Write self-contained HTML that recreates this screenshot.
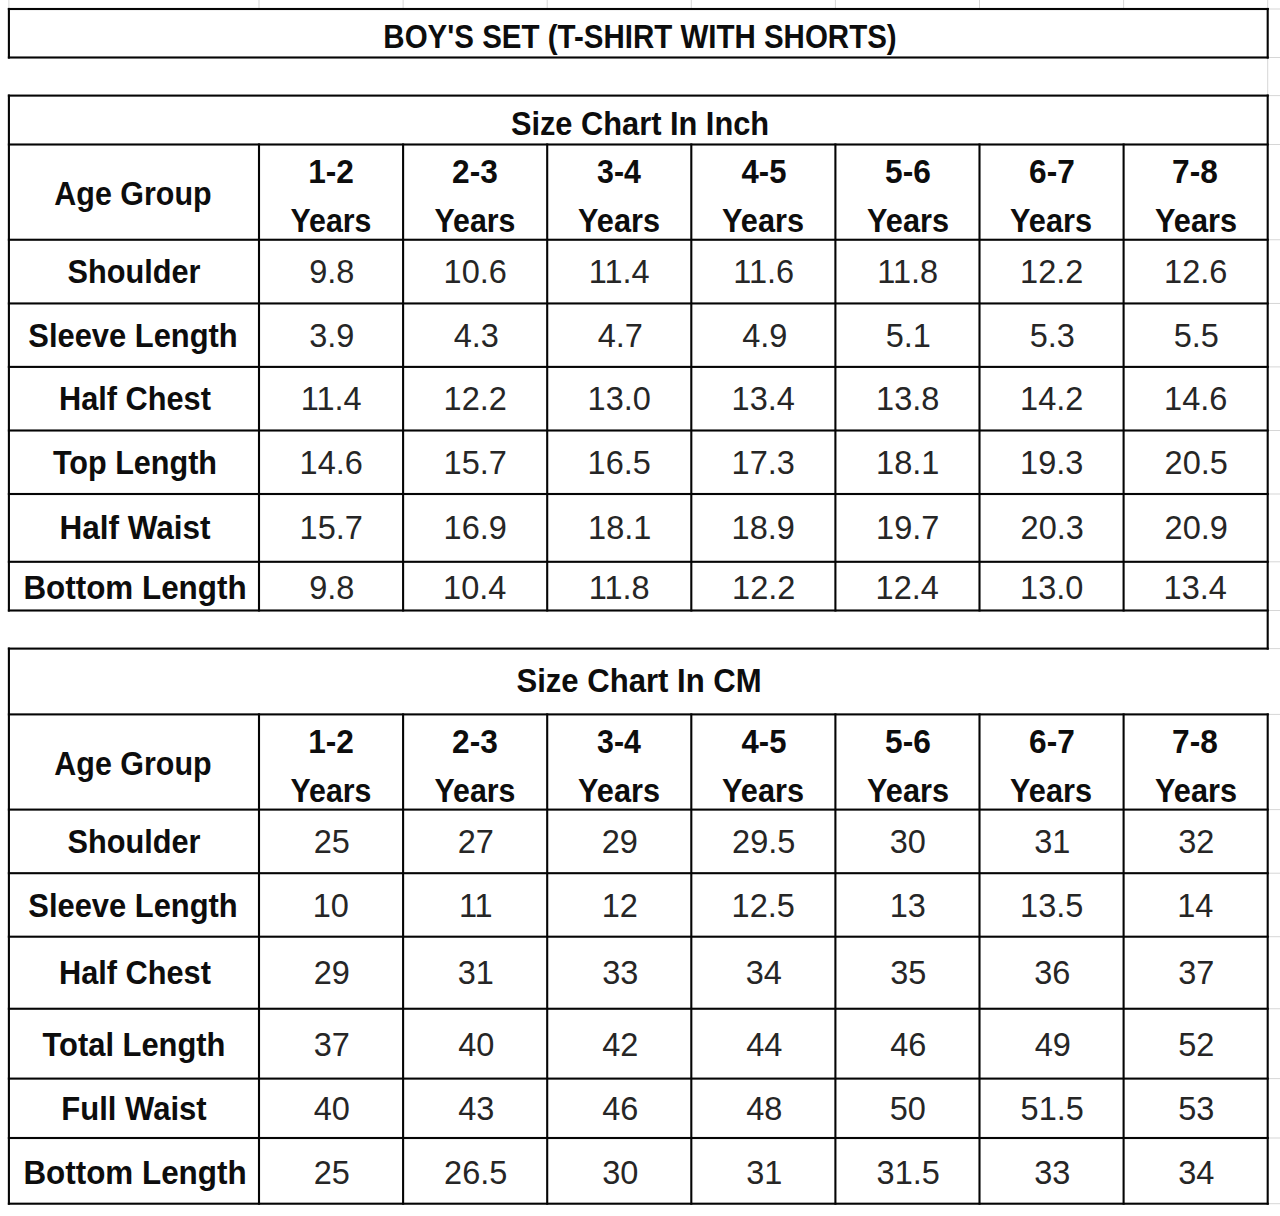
<!DOCTYPE html>
<html><head><meta charset="utf-8"><style>
html,body{margin:0;padding:0;background:#fff;}
body{width:1280px;height:1216px;position:relative;overflow:hidden;font-family:"Liberation Sans",sans-serif;}
.t{position:absolute;width:0;height:0;}
.t span{position:absolute;left:0;top:0;white-space:nowrap;line-height:1;font-size:32.5px;color:#262626;transform-origin:50% 50%;}
.b span{font-weight:bold;color:#0d0d0d;}
svg{position:absolute;left:0;top:0;}
</style></head><body>

<svg width="1280" height="1216" shape-rendering="geometricPrecision"><rect x="8.40" y="0" width="1" height="8" fill="#d6d6d6"/><rect x="258.50" y="0" width="1" height="8" fill="#d6d6d6"/><rect x="402.60" y="0" width="1" height="8" fill="#d6d6d6"/><rect x="546.70" y="0" width="1" height="8" fill="#d6d6d6"/><rect x="690.80" y="0" width="1" height="8" fill="#d6d6d6"/><rect x="834.90" y="0" width="1" height="8" fill="#d6d6d6"/><rect x="979.00" y="0" width="1" height="8" fill="#d6d6d6"/><rect x="1123.10" y="0" width="1" height="8" fill="#d6d6d6"/><rect x="1267.20" y="0" width="1" height="8" fill="#d6d6d6"/><rect x="1268.70" y="8.50" width="11.30" height="1" fill="#d6d6d6"/><rect x="1268.70" y="57.00" width="11.30" height="1" fill="#d6d6d6"/><rect x="1268.70" y="95.10" width="11.30" height="1" fill="#d6d6d6"/><rect x="1268.70" y="144.00" width="11.30" height="1" fill="#d6d6d6"/><rect x="1268.70" y="239.25" width="11.30" height="1" fill="#d6d6d6"/><rect x="1268.70" y="302.95" width="11.30" height="1" fill="#d6d6d6"/><rect x="1268.70" y="366.40" width="11.30" height="1" fill="#d6d6d6"/><rect x="1268.70" y="430.00" width="11.30" height="1" fill="#d6d6d6"/><rect x="1268.70" y="493.50" width="11.30" height="1" fill="#d6d6d6"/><rect x="1268.70" y="561.30" width="11.30" height="1" fill="#d6d6d6"/><rect x="1268.70" y="610.00" width="11.30" height="1" fill="#d6d6d6"/><rect x="1268.70" y="648.10" width="11.30" height="1" fill="#d6d6d6"/><rect x="1268.70" y="713.90" width="11.30" height="1" fill="#d6d6d6"/><rect x="1268.70" y="809.10" width="11.30" height="1" fill="#d6d6d6"/><rect x="1268.70" y="872.70" width="11.30" height="1" fill="#d6d6d6"/><rect x="1268.70" y="936.20" width="11.30" height="1" fill="#d6d6d6"/><rect x="1268.70" y="1008.25" width="11.30" height="1" fill="#d6d6d6"/><rect x="1268.70" y="1078.10" width="11.30" height="1" fill="#d6d6d6"/><rect x="1268.70" y="1137.50" width="11.30" height="1" fill="#d6d6d6"/><rect x="1268.70" y="1203.20" width="11.30" height="1" fill="#d6d6d6"/><rect x="1267.20" y="57" width="1" height="38" fill="#d6d6d6"/><rect x="7.85" y="7.95" width="1260.90" height="2.1" fill="#050505"/><rect x="7.85" y="56.45" width="1260.90" height="2.1" fill="#050505"/><rect x="7.85" y="7.95" width="2.1" height="50.60" fill="#050505"/><rect x="1266.65" y="7.95" width="2.1" height="50.60" fill="#050505"/><rect x="7.85" y="94.55" width="1260.90" height="2.1" fill="#050505"/><rect x="7.85" y="143.45" width="1260.90" height="2.1" fill="#050505"/><rect x="7.85" y="238.70" width="1260.90" height="2.1" fill="#050505"/><rect x="7.85" y="302.40" width="1260.90" height="2.1" fill="#050505"/><rect x="7.85" y="365.85" width="1260.90" height="2.1" fill="#050505"/><rect x="7.85" y="429.45" width="1260.90" height="2.1" fill="#050505"/><rect x="7.85" y="492.95" width="1260.90" height="2.1" fill="#050505"/><rect x="7.85" y="560.75" width="1260.90" height="2.1" fill="#050505"/><rect x="7.85" y="609.45" width="1260.90" height="2.1" fill="#050505"/><rect x="7.85" y="94.55" width="2.1" height="517.00" fill="#050505"/><rect x="1266.65" y="94.55" width="2.1" height="555.10" fill="#050505"/><rect x="257.95" y="143.45" width="2.1" height="468.10" fill="#050505"/><rect x="402.05" y="143.45" width="2.1" height="468.10" fill="#050505"/><rect x="546.15" y="143.45" width="2.1" height="468.10" fill="#050505"/><rect x="690.25" y="143.45" width="2.1" height="468.10" fill="#050505"/><rect x="834.35" y="143.45" width="2.1" height="468.10" fill="#050505"/><rect x="978.45" y="143.45" width="2.1" height="468.10" fill="#050505"/><rect x="1122.55" y="143.45" width="2.1" height="468.10" fill="#050505"/><rect x="7.85" y="647.55" width="1260.90" height="2.1" fill="#050505"/><rect x="7.85" y="713.35" width="1260.90" height="2.1" fill="#050505"/><rect x="7.85" y="808.55" width="1260.90" height="2.1" fill="#050505"/><rect x="7.85" y="872.15" width="1260.90" height="2.1" fill="#050505"/><rect x="7.85" y="935.65" width="1260.90" height="2.1" fill="#050505"/><rect x="7.85" y="1007.70" width="1260.90" height="2.1" fill="#050505"/><rect x="7.85" y="1077.55" width="1260.90" height="2.1" fill="#050505"/><rect x="7.85" y="1136.95" width="1260.90" height="2.1" fill="#050505"/><rect x="7.85" y="1202.65" width="1260.90" height="2.1" fill="#050505"/><rect x="7.85" y="647.55" width="2.1" height="557.20" fill="#050505"/><rect x="1266.65" y="713.35" width="2.1" height="491.40" fill="#050505"/><rect x="257.95" y="713.35" width="2.1" height="491.40" fill="#050505"/><rect x="402.05" y="713.35" width="2.1" height="491.40" fill="#050505"/><rect x="546.15" y="713.35" width="2.1" height="491.40" fill="#050505"/><rect x="690.25" y="713.35" width="2.1" height="491.40" fill="#050505"/><rect x="834.35" y="713.35" width="2.1" height="491.40" fill="#050505"/><rect x="978.45" y="713.35" width="2.1" height="491.40" fill="#050505"/><rect x="1122.55" y="713.35" width="2.1" height="491.40" fill="#050505"/></svg>
<div class="t b" style="left:640.00px;top:20.99px"><span style="transform:translateX(-50%) scaleX(0.9075)">BOY'S SET (T-SHIRT WITH SHORTS)</span></div>
<div class="t b" style="left:639.75px;top:107.99px"><span style="transform:translateX(-50%) scaleX(0.9469)">Size Chart In Inch</span></div>
<div class="t b" style="left:133.25px;top:177.59px"><span style="transform:translateX(-50%) scaleX(0.9366)">Age Group</span></div>
<div class="t b" style="left:330.75px;top:156.49px"><span style="transform:translateX(-50%) scaleX(0.9736)">1-2</span></div>
<div class="t b" style="left:331.00px;top:204.99px"><span style="transform:translateX(-50%) scaleX(0.9322)">Years</span></div>
<div class="t b" style="left:475.25px;top:156.49px"><span style="transform:translateX(-50%) scaleX(0.9746)">2-3</span></div>
<div class="t b" style="left:474.50px;top:204.99px"><span style="transform:translateX(-50%) scaleX(0.9322)">Years</span></div>
<div class="t b" style="left:618.75px;top:156.49px"><span style="transform:translateX(-50%) scaleX(0.9322)">3-4</span></div>
<div class="t b" style="left:618.50px;top:204.99px"><span style="transform:translateX(-50%) scaleX(0.9444)">Years</span></div>
<div class="t b" style="left:763.75px;top:156.49px"><span style="transform:translateX(-50%) scaleX(0.9538)">4-5</span></div>
<div class="t b" style="left:763.00px;top:204.99px"><span style="transform:translateX(-50%) scaleX(0.9444)">Years</span></div>
<div class="t b" style="left:907.75px;top:156.49px"><span style="transform:translateX(-50%) scaleX(0.9746)">5-6</span></div>
<div class="t b" style="left:907.50px;top:204.99px"><span style="transform:translateX(-50%) scaleX(0.9444)">Years</span></div>
<div class="t b" style="left:1052.25px;top:156.49px"><span style="transform:translateX(-50%) scaleX(0.9741)">6-7</span></div>
<div class="t b" style="left:1051.00px;top:204.99px"><span style="transform:translateX(-50%) scaleX(0.9444)">Years</span></div>
<div class="t b" style="left:1194.75px;top:156.49px"><span style="transform:translateX(-50%) scaleX(0.9741)">7-8</span></div>
<div class="t b" style="left:1195.50px;top:204.99px"><span style="transform:translateX(-50%) scaleX(0.9444)">Years</span></div>
<div class="t b" style="left:133.50px;top:256.19px"><span style="transform:translateX(-50%) scaleX(0.9447)">Shoulder</span></div>
<div class="t" style="left:331.75px;top:256.19px"><span style="transform:translateX(-50%) scaleX(1.0000)">9.8</span></div>
<div class="t" style="left:475.25px;top:256.19px"><span style="transform:translateX(-50%) scaleX(1.0000)">10.6</span></div>
<div class="t" style="left:619.25px;top:256.19px"><span style="transform:translateX(-50%) scaleX(1.0000)">11.4</span></div>
<div class="t" style="left:763.75px;top:256.19px"><span style="transform:translateX(-50%) scaleX(1.0000)">11.6</span></div>
<div class="t" style="left:907.75px;top:256.19px"><span style="transform:translateX(-50%) scaleX(1.0000)">11.8</span></div>
<div class="t" style="left:1051.75px;top:256.19px"><span style="transform:translateX(-50%) scaleX(1.0000)">12.2</span></div>
<div class="t" style="left:1195.75px;top:256.19px"><span style="transform:translateX(-50%) scaleX(1.0000)">12.6</span></div>
<div class="t b" style="left:133.00px;top:319.89px"><span style="transform:translateX(-50%) scaleX(0.9498)">Sleeve Length</span></div>
<div class="t" style="left:331.75px;top:319.89px"><span style="transform:translateX(-50%) scaleX(1.0000)">3.9</span></div>
<div class="t" style="left:476.25px;top:319.89px"><span style="transform:translateX(-50%) scaleX(1.0000)">4.3</span></div>
<div class="t" style="left:620.25px;top:319.89px"><span style="transform:translateX(-50%) scaleX(1.0000)">4.7</span></div>
<div class="t" style="left:764.75px;top:319.89px"><span style="transform:translateX(-50%) scaleX(1.0000)">4.9</span></div>
<div class="t" style="left:908.25px;top:319.89px"><span style="transform:translateX(-50%) scaleX(1.0000)">5.1</span></div>
<div class="t" style="left:1052.25px;top:319.89px"><span style="transform:translateX(-50%) scaleX(1.0000)">5.3</span></div>
<div class="t" style="left:1196.25px;top:319.89px"><span style="transform:translateX(-50%) scaleX(1.0000)">5.5</span></div>
<div class="t b" style="left:135.00px;top:383.29px"><span style="transform:translateX(-50%) scaleX(0.9447)">Half Chest</span></div>
<div class="t" style="left:331.25px;top:383.29px"><span style="transform:translateX(-50%) scaleX(1.0000)">11.4</span></div>
<div class="t" style="left:475.25px;top:383.29px"><span style="transform:translateX(-50%) scaleX(1.0000)">12.2</span></div>
<div class="t" style="left:619.25px;top:383.29px"><span style="transform:translateX(-50%) scaleX(1.0000)">13.0</span></div>
<div class="t" style="left:763.25px;top:383.29px"><span style="transform:translateX(-50%) scaleX(1.0000)">13.4</span></div>
<div class="t" style="left:907.75px;top:383.29px"><span style="transform:translateX(-50%) scaleX(1.0000)">13.8</span></div>
<div class="t" style="left:1051.75px;top:383.29px"><span style="transform:translateX(-50%) scaleX(1.0000)">14.2</span></div>
<div class="t" style="left:1195.75px;top:383.29px"><span style="transform:translateX(-50%) scaleX(1.0000)">14.6</span></div>
<div class="t b" style="left:134.50px;top:446.89px"><span style="transform:translateX(-50%) scaleX(0.9402)">Top Length</span></div>
<div class="t" style="left:331.25px;top:446.89px"><span style="transform:translateX(-50%) scaleX(1.0000)">14.6</span></div>
<div class="t" style="left:475.25px;top:446.89px"><span style="transform:translateX(-50%) scaleX(1.0000)">15.7</span></div>
<div class="t" style="left:619.25px;top:446.89px"><span style="transform:translateX(-50%) scaleX(1.0000)">16.5</span></div>
<div class="t" style="left:763.25px;top:446.89px"><span style="transform:translateX(-50%) scaleX(1.0000)">17.3</span></div>
<div class="t" style="left:907.75px;top:446.89px"><span style="transform:translateX(-50%) scaleX(1.0000)">18.1</span></div>
<div class="t" style="left:1051.75px;top:446.89px"><span style="transform:translateX(-50%) scaleX(1.0000)">19.3</span></div>
<div class="t" style="left:1196.25px;top:446.89px"><span style="transform:translateX(-50%) scaleX(1.0000)">20.5</span></div>
<div class="t b" style="left:135.00px;top:512.49px"><span style="transform:translateX(-50%) scaleX(0.9690)">Half Waist</span></div>
<div class="t" style="left:331.25px;top:512.49px"><span style="transform:translateX(-50%) scaleX(1.0000)">15.7</span></div>
<div class="t" style="left:475.25px;top:512.49px"><span style="transform:translateX(-50%) scaleX(1.0000)">16.9</span></div>
<div class="t" style="left:619.75px;top:512.49px"><span style="transform:translateX(-50%) scaleX(1.0000)">18.1</span></div>
<div class="t" style="left:763.25px;top:512.49px"><span style="transform:translateX(-50%) scaleX(1.0000)">18.9</span></div>
<div class="t" style="left:907.75px;top:512.49px"><span style="transform:translateX(-50%) scaleX(1.0000)">19.7</span></div>
<div class="t" style="left:1052.25px;top:512.49px"><span style="transform:translateX(-50%) scaleX(1.0000)">20.3</span></div>
<div class="t" style="left:1196.25px;top:512.49px"><span style="transform:translateX(-50%) scaleX(1.0000)">20.9</span></div>
<div class="t b" style="left:134.50px;top:571.79px"><span style="transform:translateX(-50%) scaleX(0.9660)">Bottom Length</span></div>
<div class="t" style="left:331.75px;top:571.79px"><span style="transform:translateX(-50%) scaleX(1.0000)">9.8</span></div>
<div class="t" style="left:474.75px;top:571.79px"><span style="transform:translateX(-50%) scaleX(1.0000)">10.4</span></div>
<div class="t" style="left:619.25px;top:571.79px"><span style="transform:translateX(-50%) scaleX(1.0000)">11.8</span></div>
<div class="t" style="left:763.75px;top:571.79px"><span style="transform:translateX(-50%) scaleX(1.0000)">12.2</span></div>
<div class="t" style="left:907.25px;top:571.79px"><span style="transform:translateX(-50%) scaleX(1.0000)">12.4</span></div>
<div class="t" style="left:1051.75px;top:571.79px"><span style="transform:translateX(-50%) scaleX(1.0000)">13.0</span></div>
<div class="t" style="left:1195.25px;top:571.79px"><span style="transform:translateX(-50%) scaleX(1.0000)">13.4</span></div>
<div class="t b" style="left:638.75px;top:665.19px"><span style="transform:translateX(-50%) scaleX(0.9561)">Size Chart In CM</span></div>
<div class="t b" style="left:133.25px;top:747.59px"><span style="transform:translateX(-50%) scaleX(0.9366)">Age Group</span></div>
<div class="t b" style="left:330.75px;top:726.49px"><span style="transform:translateX(-50%) scaleX(0.9736)">1-2</span></div>
<div class="t b" style="left:331.00px;top:774.99px"><span style="transform:translateX(-50%) scaleX(0.9322)">Years</span></div>
<div class="t b" style="left:475.25px;top:726.49px"><span style="transform:translateX(-50%) scaleX(0.9746)">2-3</span></div>
<div class="t b" style="left:474.50px;top:774.99px"><span style="transform:translateX(-50%) scaleX(0.9322)">Years</span></div>
<div class="t b" style="left:618.75px;top:726.49px"><span style="transform:translateX(-50%) scaleX(0.9322)">3-4</span></div>
<div class="t b" style="left:618.50px;top:774.99px"><span style="transform:translateX(-50%) scaleX(0.9444)">Years</span></div>
<div class="t b" style="left:763.75px;top:726.49px"><span style="transform:translateX(-50%) scaleX(0.9538)">4-5</span></div>
<div class="t b" style="left:763.00px;top:774.99px"><span style="transform:translateX(-50%) scaleX(0.9444)">Years</span></div>
<div class="t b" style="left:907.75px;top:726.49px"><span style="transform:translateX(-50%) scaleX(0.9746)">5-6</span></div>
<div class="t b" style="left:907.50px;top:774.99px"><span style="transform:translateX(-50%) scaleX(0.9444)">Years</span></div>
<div class="t b" style="left:1052.25px;top:726.49px"><span style="transform:translateX(-50%) scaleX(0.9741)">6-7</span></div>
<div class="t b" style="left:1051.00px;top:774.99px"><span style="transform:translateX(-50%) scaleX(0.9444)">Years</span></div>
<div class="t b" style="left:1194.75px;top:726.49px"><span style="transform:translateX(-50%) scaleX(0.9741)">7-8</span></div>
<div class="t b" style="left:1195.50px;top:774.99px"><span style="transform:translateX(-50%) scaleX(0.9444)">Years</span></div>
<div class="t b" style="left:133.50px;top:825.99px"><span style="transform:translateX(-50%) scaleX(0.9447)">Shoulder</span></div>
<div class="t" style="left:331.75px;top:825.99px"><span style="transform:translateX(-50%) scaleX(1.0000)">25</span></div>
<div class="t" style="left:475.75px;top:825.99px"><span style="transform:translateX(-50%) scaleX(1.0000)">27</span></div>
<div class="t" style="left:619.75px;top:825.99px"><span style="transform:translateX(-50%) scaleX(1.0000)">29</span></div>
<div class="t" style="left:763.75px;top:825.99px"><span style="transform:translateX(-50%) scaleX(1.0000)">29.5</span></div>
<div class="t" style="left:907.75px;top:825.99px"><span style="transform:translateX(-50%) scaleX(1.0000)">30</span></div>
<div class="t" style="left:1052.25px;top:825.99px"><span style="transform:translateX(-50%) scaleX(1.0000)">31</span></div>
<div class="t" style="left:1196.25px;top:825.99px"><span style="transform:translateX(-50%) scaleX(1.0000)">32</span></div>
<div class="t b" style="left:133.00px;top:889.79px"><span style="transform:translateX(-50%) scaleX(0.9498)">Sleeve Length</span></div>
<div class="t" style="left:330.75px;top:889.79px"><span style="transform:translateX(-50%) scaleX(1.0000)">10</span></div>
<div class="t" style="left:475.75px;top:889.79px"><span style="transform:translateX(-50%) scaleX(1.0000)">11</span></div>
<div class="t" style="left:619.75px;top:889.79px"><span style="transform:translateX(-50%) scaleX(1.0000)">12</span></div>
<div class="t" style="left:763.25px;top:889.79px"><span style="transform:translateX(-50%) scaleX(1.0000)">12.5</span></div>
<div class="t" style="left:907.75px;top:889.79px"><span style="transform:translateX(-50%) scaleX(1.0000)">13</span></div>
<div class="t" style="left:1051.75px;top:889.79px"><span style="transform:translateX(-50%) scaleX(1.0000)">13.5</span></div>
<div class="t" style="left:1195.25px;top:889.79px"><span style="transform:translateX(-50%) scaleX(1.0000)">14</span></div>
<div class="t b" style="left:135.00px;top:957.09px"><span style="transform:translateX(-50%) scaleX(0.9447)">Half Chest</span></div>
<div class="t" style="left:331.75px;top:957.09px"><span style="transform:translateX(-50%) scaleX(1.0000)">29</span></div>
<div class="t" style="left:475.75px;top:957.09px"><span style="transform:translateX(-50%) scaleX(1.0000)">31</span></div>
<div class="t" style="left:620.25px;top:957.09px"><span style="transform:translateX(-50%) scaleX(1.0000)">33</span></div>
<div class="t" style="left:763.75px;top:957.09px"><span style="transform:translateX(-50%) scaleX(1.0000)">34</span></div>
<div class="t" style="left:908.25px;top:957.09px"><span style="transform:translateX(-50%) scaleX(1.0000)">35</span></div>
<div class="t" style="left:1052.25px;top:957.09px"><span style="transform:translateX(-50%) scaleX(1.0000)">36</span></div>
<div class="t" style="left:1196.25px;top:957.09px"><span style="transform:translateX(-50%) scaleX(1.0000)">37</span></div>
<div class="t b" style="left:133.50px;top:1029.29px"><span style="transform:translateX(-50%) scaleX(0.9500)">Total Length</span></div>
<div class="t" style="left:331.75px;top:1029.29px"><span style="transform:translateX(-50%) scaleX(1.0000)">37</span></div>
<div class="t" style="left:476.25px;top:1029.29px"><span style="transform:translateX(-50%) scaleX(1.0000)">40</span></div>
<div class="t" style="left:620.25px;top:1029.29px"><span style="transform:translateX(-50%) scaleX(1.0000)">42</span></div>
<div class="t" style="left:764.25px;top:1029.29px"><span style="transform:translateX(-50%) scaleX(1.0000)">44</span></div>
<div class="t" style="left:908.25px;top:1029.29px"><span style="transform:translateX(-50%) scaleX(1.0000)">46</span></div>
<div class="t" style="left:1052.75px;top:1029.29px"><span style="transform:translateX(-50%) scaleX(1.0000)">49</span></div>
<div class="t" style="left:1196.25px;top:1029.29px"><span style="transform:translateX(-50%) scaleX(1.0000)">52</span></div>
<div class="t b" style="left:134.00px;top:1093.29px"><span style="transform:translateX(-50%) scaleX(0.9540)">Full Waist</span></div>
<div class="t" style="left:331.75px;top:1093.29px"><span style="transform:translateX(-50%) scaleX(1.0000)">40</span></div>
<div class="t" style="left:476.25px;top:1093.29px"><span style="transform:translateX(-50%) scaleX(1.0000)">43</span></div>
<div class="t" style="left:620.25px;top:1093.29px"><span style="transform:translateX(-50%) scaleX(1.0000)">46</span></div>
<div class="t" style="left:764.25px;top:1093.29px"><span style="transform:translateX(-50%) scaleX(1.0000)">48</span></div>
<div class="t" style="left:907.75px;top:1093.29px"><span style="transform:translateX(-50%) scaleX(1.0000)">50</span></div>
<div class="t" style="left:1052.25px;top:1093.29px"><span style="transform:translateX(-50%) scaleX(1.0000)">51.5</span></div>
<div class="t" style="left:1196.25px;top:1093.29px"><span style="transform:translateX(-50%) scaleX(1.0000)">53</span></div>
<div class="t b" style="left:134.50px;top:1156.59px"><span style="transform:translateX(-50%) scaleX(0.9660)">Bottom Length</span></div>
<div class="t" style="left:331.75px;top:1156.59px"><span style="transform:translateX(-50%) scaleX(1.0000)">25</span></div>
<div class="t" style="left:475.75px;top:1156.59px"><span style="transform:translateX(-50%) scaleX(1.0000)">26.5</span></div>
<div class="t" style="left:620.25px;top:1156.59px"><span style="transform:translateX(-50%) scaleX(1.0000)">30</span></div>
<div class="t" style="left:764.25px;top:1156.59px"><span style="transform:translateX(-50%) scaleX(1.0000)">31</span></div>
<div class="t" style="left:908.25px;top:1156.59px"><span style="transform:translateX(-50%) scaleX(1.0000)">31.5</span></div>
<div class="t" style="left:1052.25px;top:1156.59px"><span style="transform:translateX(-50%) scaleX(1.0000)">33</span></div>
<div class="t" style="left:1196.25px;top:1156.59px"><span style="transform:translateX(-50%) scaleX(1.0000)">34</span></div>
</body></html>
